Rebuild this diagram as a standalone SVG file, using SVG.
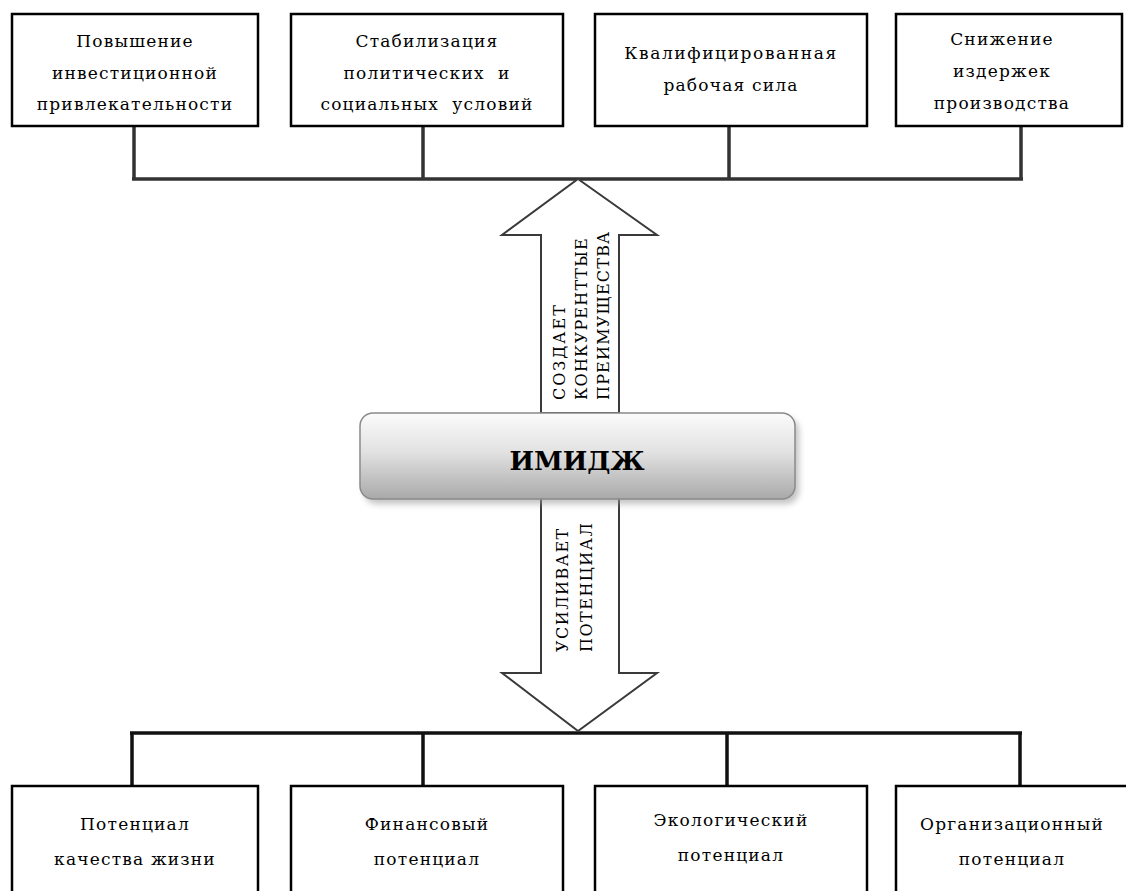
<svg xmlns="http://www.w3.org/2000/svg" width="1126" height="891" viewBox="0 0 1126 891">
  <defs>
    <linearGradient id="imageFill" x1="0" y1="0" x2="0" y2="1">
      <stop offset="0" stop-color="#fbfbfb"/>
      <stop offset="0.45" stop-color="#e2e2e2"/>
      <stop offset="1" stop-color="#a9a9a9"/>
    </linearGradient>
    <filter id="softShadow" x="-5%" y="-20%" width="115%" height="150%">
      <feGaussianBlur stdDeviation="3"/>
    </filter>
  </defs>
  <style>
    .box { fill: #ffffff; stroke: #000000; stroke-width: 2.5; }
    .lbl { font-family: "DejaVu Serif", "Liberation Serif", serif; font-size: 17px; letter-spacing: 1.2px; fill: #000000; text-anchor: middle; }
    .vlbl { font-family: "DejaVu Serif", "Liberation Serif", serif; font-size: 16px; letter-spacing: 1.2px; fill: #000000; }
    .arrow { fill: #ffffff; stroke: #3a3a3a; stroke-width: 2; stroke-linejoin: miter; }
    .link-top { fill: none; stroke: #333333; stroke-width: 3.5; }
    .link-bot { fill: none; stroke: #111111; stroke-width: 3.5; }
  </style>

  <rect width="1126" height="891" fill="#ffffff"/>

  <!-- connectors -->
  <g id="connectors">
    <path class="link-top" d="M134 126 V179 M423 126 V179 M729 126 V179 M1021 126 V179 M132 179 H1023"/>
    <path class="link-bot" d="M132 786 V733 M423 786 V733 M727 786 V733 M1020 786 V733 M130 733 H1022"/>
  </g>

  <!-- upper row -->
  <g id="node-invest">
    <rect class="box" x="12" y="14" width="246" height="112"/>
    <text class="lbl" x="135" y="47">Повышение</text>
    <text class="lbl" x="135" y="79">инвестиционной</text>
    <text class="lbl" x="135" y="110">привлекательности</text>
  </g>
  <g id="node-stability">
    <rect class="box" x="291" y="14" width="272" height="112"/>
    <text class="lbl" x="427" y="47">Стабилизация</text>
    <text class="lbl" x="427" y="79" xml:space="preserve">политических  и</text>
    <text class="lbl" x="427" y="110" xml:space="preserve">социальных  условий</text>
  </g>
  <g id="node-labour">
    <rect class="box" x="595" y="14" width="272" height="112"/>
    <text class="lbl" x="731" y="59" style="letter-spacing:1.6px">Квалифицированная</text>
    <text class="lbl" x="731" y="91">рабочая сила</text>
  </g>
  <g id="node-costs">
    <rect class="box" x="896" y="14" width="226" height="112"/>
    <text class="lbl" x="1002" y="45">Снижение</text>
    <text class="lbl" x="1002" y="77">издержек</text>
    <text class="lbl" x="1002" y="109">производства</text>
  </g>

  <!-- arrow up: advantages -->
  <g id="arrow-up">
    <path class="arrow" d="M578 179 L657 235 L619 235 L619 413 L541 413 L541 235 L502 235 Z"/>
    <text class="vlbl" transform="translate(565 400) rotate(-90)" style="letter-spacing:2px">СОЗДАЕТ</text>
    <text class="vlbl" transform="translate(587 400) rotate(-90)">КОНКУРЕНТТЫЕ</text>
    <text class="vlbl" transform="translate(609 400) rotate(-90)">ПРЕИМУЩЕСТВА</text>
  </g>

  <!-- arrow down: potential -->
  <g id="arrow-down">
    <path class="arrow" d="M541 498 L619 498 L619 673 L657 673 L578 731 L502 673 L541 673 Z"/>
    <text class="vlbl" transform="translate(568 652) rotate(-90)" style="letter-spacing:1.5px">УСИЛИВАЕТ</text>
    <text class="vlbl" transform="translate(592 652) rotate(-90)" style="letter-spacing:1.5px">ПОТЕНЦИАЛ</text>
  </g>

  <!-- central block -->
  <g id="node-image">
    <rect x="364" y="418" width="435" height="86" rx="13" fill="#9a9a9a" opacity="0.6" filter="url(#softShadow)"/>
    <rect x="360" y="413" width="435" height="86" rx="13" fill="url(#imageFill)" stroke="#8a8a8a" stroke-width="1.5"/>
    <text x="577" y="470" font-family="'DejaVu Serif', 'Liberation Serif', serif" font-size="26" font-weight="bold" text-anchor="middle" fill="#000000">ИМИДЖ</text>
  </g>

  <!-- lower row -->
  <g id="node-life">
    <rect class="box" x="12" y="786" width="246" height="120"/>
    <text class="lbl" x="135" y="830">Потенциал</text>
    <text class="lbl" x="135" y="865">качества жизни</text>
  </g>
  <g id="node-finance">
    <rect class="box" x="291" y="786" width="272" height="120"/>
    <text class="lbl" x="427" y="830">Финансовый</text>
    <text class="lbl" x="427" y="865">потенциал</text>
  </g>
  <g id="node-ecology">
    <rect class="box" x="595" y="786" width="272" height="120"/>
    <text class="lbl" x="731" y="826">Экологический</text>
    <text class="lbl" x="731" y="861">потенциал</text>
  </g>
  <g id="node-organisation">
    <rect class="box" x="896" y="786" width="240" height="120"/>
    <text class="lbl" x="1012" y="830">Организационный</text>
    <text class="lbl" x="1012" y="865">потенциал</text>
  </g>
</svg>
